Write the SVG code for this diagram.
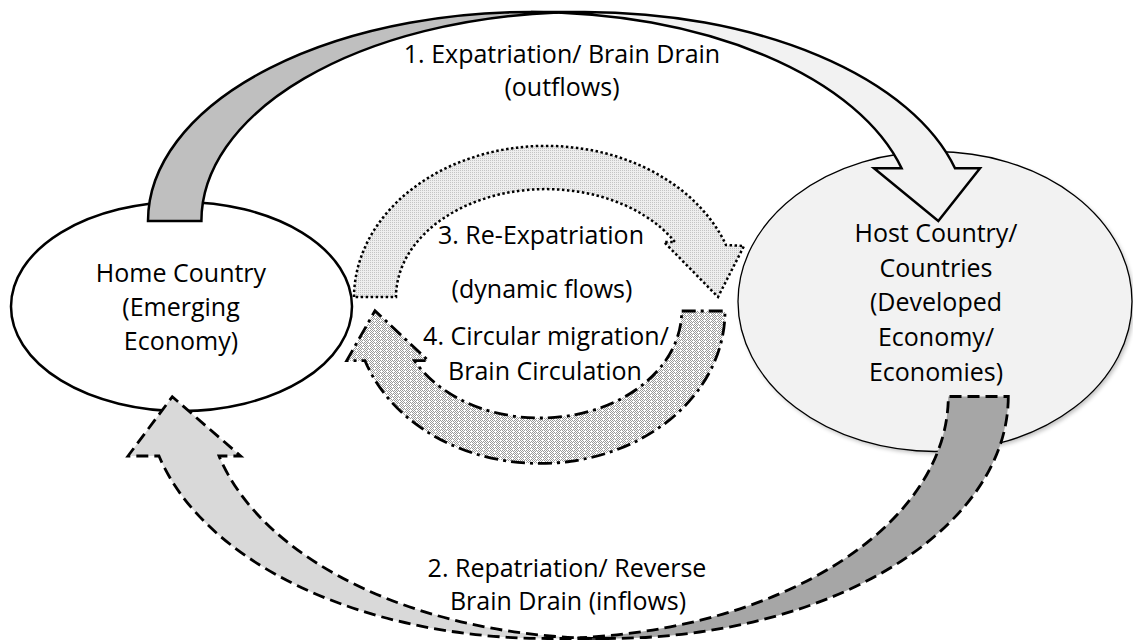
<svg xmlns="http://www.w3.org/2000/svg" width="1133" height="644" viewBox="0 0 1133 644">
<style>
text{font-family:"Open Sans","Noto Sans",sans-serif;font-size:25px;fill:#000;text-anchor:middle}
.solid{stroke:#000;stroke-width:2.5;stroke-linejoin:miter}
.dash{stroke:#000;stroke-width:2.8;stroke-dasharray:12 6;stroke-linejoin:miter}
.dot{stroke:#000;stroke-width:2.5;stroke-dasharray:2.5 2.5}
.dashdot{stroke:#000;stroke-width:2.8;stroke-dasharray:14 5 3 5}
</style>
<defs>
<pattern id="p3" width="2" height="2" patternUnits="userSpaceOnUse">
<rect width="2" height="2" fill="#eeeeee"/>
<rect width="1" height="1" fill="#c4c4c4"/>
</pattern>
<pattern id="p4" width="6" height="6" patternUnits="userSpaceOnUse">
<rect width="6" height="6" fill="#ffffff"/>
<rect x="0" y="0" width="1" height="1" fill="#9a9a9a"/>
<rect x="2" y="0" width="1" height="1" fill="#9a9a9a"/>
<rect x="4" y="0" width="1" height="1" fill="#9a9a9a"/>
<rect x="1" y="1" width="1" height="1" fill="#9a9a9a"/>
<rect x="3" y="1" width="1" height="1" fill="#9a9a9a"/>
<rect x="5" y="1" width="1" height="1" fill="#9a9a9a"/>
<rect x="0" y="2" width="1" height="1" fill="#9a9a9a"/>
<rect x="4" y="2" width="1" height="1" fill="#9a9a9a"/>
<rect x="1" y="3" width="1" height="1" fill="#9a9a9a"/>
<rect x="3" y="3" width="1" height="1" fill="#9a9a9a"/>
<rect x="5" y="3" width="1" height="1" fill="#9a9a9a"/>
<rect x="0" y="4" width="1" height="1" fill="#9a9a9a"/>
<rect x="2" y="4" width="1" height="1" fill="#9a9a9a"/>
<rect x="4" y="4" width="1" height="1" fill="#9a9a9a"/>
<rect x="1" y="5" width="1" height="1" fill="#9a9a9a"/>
<rect x="5" y="5" width="1" height="1" fill="#9a9a9a"/>
</pattern>
<filter id="sh" x="-10%" y="-10%" width="120%" height="120%">
<feGaussianBlur stdDeviation="2"/>
</filter>
</defs>
<rect width="1133" height="644" fill="#ffffff"/>

<g id="node-home">
<ellipse cx="181.5" cy="306.5" rx="170.5" ry="104.5" fill="#ffffff" class="solid"/>
<text x="181" y="282">Home Country</text>
<text x="181" y="316">(Emerging</text>
<text x="181" y="350">Economy)</text>
</g>

<g id="node-host">
<ellipse cx="937" cy="304" rx="197" ry="150" fill="#000" opacity="0.25" filter="url(#sh)"/>
<ellipse cx="935" cy="301.5" rx="197" ry="150" fill="#f2f2f2" stroke="#000" stroke-width="1.3"/>
<text x="936" y="242">Host Country/</text>
<text x="936" y="277">Countries</text>
<text x="936" y="311">(Developed</text>
<text x="936" y="346">Economy/</text>
<text x="936" y="381">Economies)</text>
</g>

<g id="connectors">
<g id="arrow-1">
<path class="solid" fill="#bfbfbf" d="M148,221 A383,209 0 0,1 557.7,12.5 A383,209 0 0,0 201.4,221 Z"/>
<path class="solid" fill="#f2f2f2" d="M531,12 L584.4,12 A383,209 0 0,1 955,168.3 L980,168.3 L938.3,221 L874,168.3 L901.6,168.3 A383,209 0 0,0 531,12 Z"/>
<text x="562" y="63">1. Expatriation/ Brain Drain</text>
<text x="562" y="96">(outflows)</text>
</g>
<g id="arrow-2">
<path class="dash" fill="#a6a6a6" d="M1008.3,396.5 A400.8,242 0 0,1 577.5,637.8 A400.8,242 0 0,0 948.3,396.5 Z"/>
<path class="dash" fill="#d9d9d9" d="M607.5,638.5 L547.5,638.5 A400.8,242 0 0,1 159,456 L128,456 L172.3,396.7 L240.6,456 L219,456 A400.8,242 0 0,0 607.5,638.5 Z"/>
<text x="567" y="577">2. Repatriation/ Reverse</text>
<text x="568" y="610">Brain Drain (inflows)</text>
</g>
<g id="arrow-3">
<path class="dot" fill="url(#p3)" d="M354,297 A192,152 0 0,1 726,245 L744,246 L718,297 L664,242 L675,242 A150,108 0 0,0 396,297 Z"/>
<text x="541" y="244">3. Re-Expatriation</text>
<text x="542" y="298">(dynamic flows)</text>
</g>
<g id="arrow-4">
<path class="dashdot" fill="url(#p4)" d="M681.7,311 L725,311 A185,152 0 0,1 365,360.7 L346.7,360.7 L375,310.7 L428.3,360.7 L414.5,360.7 A141.7,107 0 0,0 681.7,311 Z"/>
<text x="546" y="345">4. Circular migration/</text>
<text x="545" y="380">Brain Circulation</text>
</g>
</g>
</svg>
